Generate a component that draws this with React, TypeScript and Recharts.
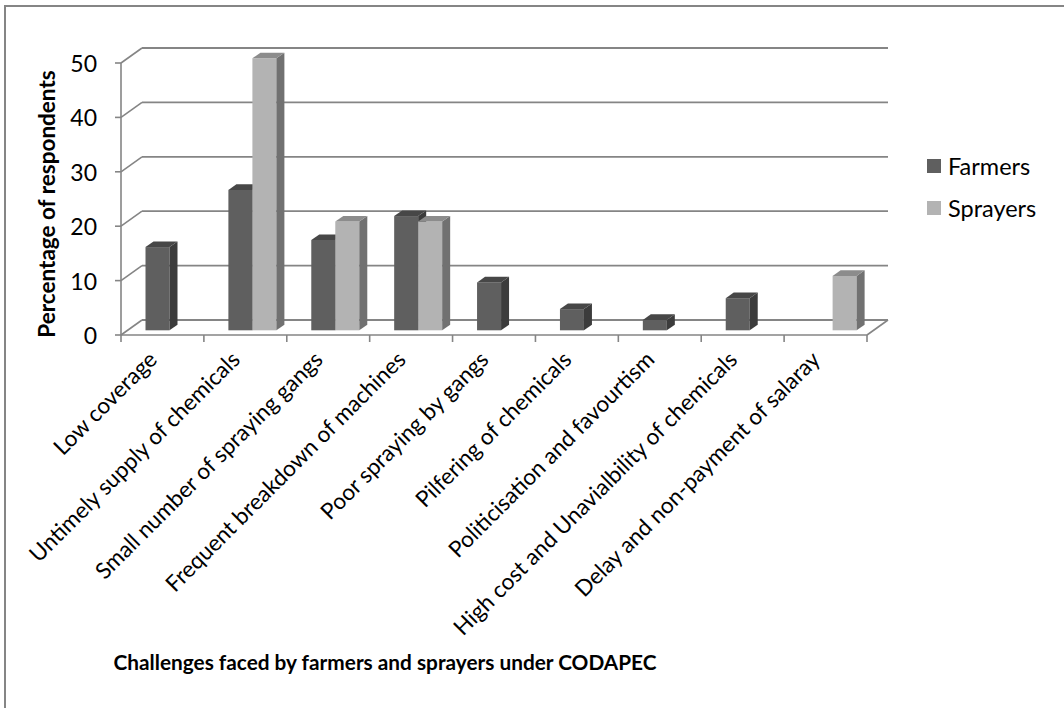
import React from "react";
import { BarChart, Bar, XAxis, YAxis, CartesianGrid } from "recharts";

const categories = [
  "Low coverage",
  "Untimely supply of chemicals",
  "Small number of spraying gangs",
  "Frequent breakdown of machines",
  "Poor spraying by gangs",
  "Pilfering of chemicals",
  "Politicisation and favourtism",
  "High cost and Unavialbility of chemicals",
  "Delay and non-payment of salaray",
];
const farmers = [15.3, 25.8, 16.6, 21, 8.8, 3.9, 1.9, 5.9, 0];
const sprayers = [0, 50, 20, 20, 0, 0, 0, 0, 10];
const yTicks = [0, 10, 20, 30, 40, 50];

const data = categories.map((name, i) => ({
  name,
  Farmers: farmers[i],
  Sprayers: sprayers[i],
}));

const W = 1064;
const H = 708;
const PLOT_LEFT = 121;
const PLOT_RIGHT = 867;
const PLOT_TOP = 63;
const PLOT_BOTTOM = 335;
const BAND = (PLOT_RIGHT - PLOT_LEFT) / categories.length;

// depth of the floor / back wall
const WALL_DX = 21;
const WALL_DY = 15;
// bars sit in the middle of the depth
const BAR_OFF_X = 6.6;
const BAR_OFF_Y = 4.7;
const BAR_DX = 8;
const BAR_DY = 5.6;

const AXIS = "#858585";
const FONT = "Lato, 'Open Sans', sans-serif";

const colors = {
  Farmers: { front: "#5f5f5f", side: "#3c3c3c", top: "#474747" },
  Sprayers: { front: "#b3b3b3", side: "#717171", top: "#8c8c8c" },
};

const bar3d = (c: { front: string; side: string; top: string }) => (props: any) => {
  const { x, y, width, height } = props;
  if (!height || height <= 0) return <g />;
  const fx = x + BAR_OFF_X;
  const fy = y - BAR_OFF_Y;
  const r = fx + width;
  return (
    <g>
      <rect x={fx} y={fy} width={width} height={height} fill={c.front} />
      <polygon
        points={`${r},${fy} ${r + BAR_DX},${fy - BAR_DY} ${r + BAR_DX},${fy + height - BAR_DY} ${r},${fy + height}`}
        fill={c.side}
      />
      <polygon
        points={`${fx},${fy} ${fx + BAR_DX},${fy - BAR_DY} ${r + BAR_DX},${fy - BAR_DY} ${r},${fy}`}
        fill={c.top}
      />
    </g>
  );
};

const backLine = (props: any) => {
  const { x1, x2, y1 } = props;
  return (
    <line
      key={props.key}
      x1={x1 + WALL_DX}
      x2={x2 + WALL_DX}
      y1={y1 - WALL_DY}
      y2={y1 - WALL_DY}
      stroke={AXIS}
      strokeWidth={1.8}
    />
  );
};

const YTick = (props: any) => {
  const { y, payload } = props;
  const ax = PLOT_LEFT;
  return (
    <g>
      <line x1={ax - 6} x2={ax} y1={y} y2={y} stroke={AXIS} strokeWidth={1.6} />
      <line x1={ax} x2={ax + WALL_DX} y1={y} y2={y - WALL_DY} stroke={AXIS} strokeWidth={1.6} />
      <text
        x={97}
        y={y}
        textAnchor="end"
        dominantBaseline="central"
        fontFamily={FONT}
        fontSize={23}
        fill="#000"
      >
        {payload.value}
      </text>
    </g>
  );
};

const XTick = (props: any) => {
  const { x, payload, index } = props;
  const y0 = PLOT_BOTTOM;
  const left = x - BAND / 2;
  const right = x + BAND / 2;
  const last = index === categories.length - 1;
  const lx = x - 4;
  const ly = y0 + 26;
  return (
    <g>
      <line x1={left} x2={left} y1={y0} y2={y0 + 7} stroke={AXIS} strokeWidth={1.6} />
      {last && (
        <>
          <line x1={right} x2={right} y1={y0} y2={y0 + 7} stroke={AXIS} strokeWidth={1.6} />
          <line
            x1={right}
            x2={right + WALL_DX}
            y1={y0}
            y2={y0 - WALL_DY}
            stroke={AXIS}
            strokeWidth={1.6}
          />
        </>
      )}
      <text
        x={lx}
        y={ly}
        textAnchor="end"
        transform={`rotate(-45 ${lx} ${ly})`}
        fontFamily={FONT}
        fontSize={22.5}
        fill="#000"
      >
        {payload.value}
      </text>
    </g>
  );
};

const LegendBox = () => (
  <div
    style={{
      position: "absolute",
      left: 927,
      top: 154,
      fontFamily: FONT,
      fontSize: 23.5,
      color: "#000",
    }}
  >
    {(["Farmers", "Sprayers"] as const).map((k, i) => (
      <div
        key={k}
        style={{ display: "flex", alignItems: "center", height: 24, marginBottom: i === 0 ? 18 : 0 }}
      >
        <span
          style={{
            display: "inline-block",
            width: 14,
            height: 14,
            background: colors[k].front,
            marginRight: 7,
          }}
        />
        <span>{k}</span>
      </div>
    ))}
  </div>
);

export default function App() {
  return (
    <div style={{ position: "relative", width: W, height: H, background: "#fff" }}>
      <style>{`body{margin:0}`}</style>
      <div
        style={{
          position: "absolute",
          left: 4,
          top: 5,
          right: 0,
          bottom: 0,
          borderLeft: `2px solid ${AXIS}`,
          borderTop: `2px solid ${AXIS}`,
        }}
      />
      <BarChart
        width={W}
        height={H}
        data={data}
        margin={{ top: PLOT_TOP, right: W - PLOT_RIGHT, left: 0, bottom: 0 }}
        barCategoryGap="21.6%"
        barGap={0}
        style={{ position: "absolute", left: 0, top: 0 }}
      >
        <CartesianGrid vertical={false} horizontal={backLine} />
        <XAxis
          dataKey="name"
          height={H - PLOT_BOTTOM}
          interval={0}
          axisLine={{ stroke: AXIS, strokeWidth: 1.6 }}
          tickLine={false}
          tick={<XTick />}
          label={{
            content: () => (
              <text
                x={385}
                y={661}
                textAnchor="middle"
                dominantBaseline="central"
                fontFamily={FONT}
                fontWeight="bold"
                fontSize={20.8}
                fill="#000"
              >
                Challenges faced by farmers and sprayers under CODAPEC
              </text>
            ),
          }}
        />
        <YAxis
          width={PLOT_LEFT}
          domain={[0, 50]}
          ticks={yTicks}
          interval={0}
          axisLine={{ stroke: AXIS, strokeWidth: 1.6 }}
          tickLine={false}
          tick={<YTick />}
          label={{
            content: () => (
              <text
                x={46}
                y={204}
                textAnchor="middle"
                dominantBaseline="central"
                transform="rotate(-90 46 204)"
                fontFamily={FONT}
                fontWeight="bold"
                fontSize={22.5}
                fill="#000"
              >
                Percentage of respondents
              </text>
            ),
          }}
        />
        <Bar dataKey="Farmers" fill={colors.Farmers.front} shape={bar3d(colors.Farmers)} isAnimationActive={false} />
        <Bar dataKey="Sprayers" fill={colors.Sprayers.front} shape={bar3d(colors.Sprayers)} isAnimationActive={false} />
      </BarChart>
      <LegendBox />
    </div>
  );
}
